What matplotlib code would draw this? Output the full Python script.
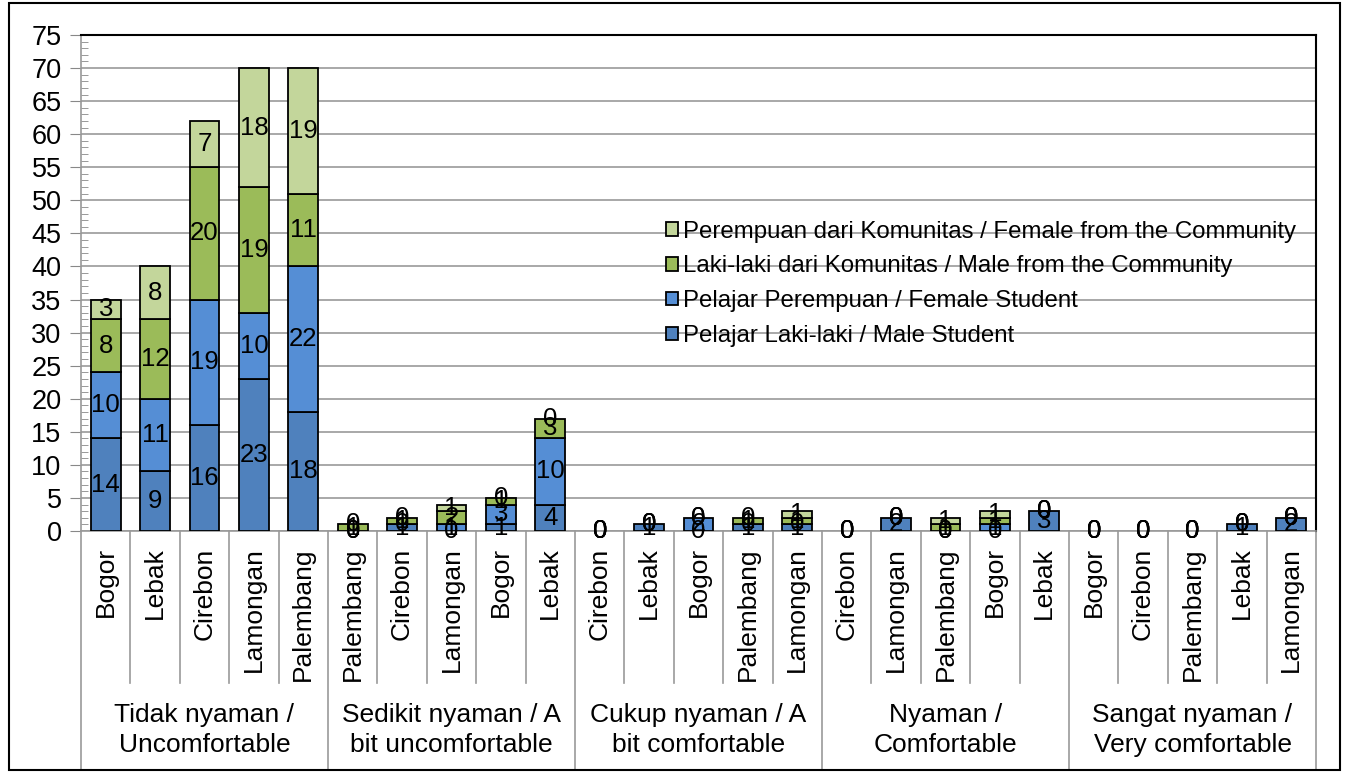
import numpy as np
import matplotlib.pyplot as plt
from matplotlib.patches import Rectangle

plt.rcParams['font.family'] = ['Liberation Sans', 'DejaVu Sans']

# comfort groups and the cities inside each group
groups = ['Tidak nyaman /\nUncomfortable', 'Sedikit nyaman / A\nbit uncomfortable',
          'Cukup nyaman / A\nbit comfortable', 'Nyaman /\nComfortable',
          'Sangat nyaman /\nVery comfortable']
cities = [
    ['Bogor', 'Lebak', 'Cirebon', 'Lamongan', 'Palembang'],
    ['Palembang', 'Cirebon', 'Lamongan', 'Bogor', 'Lebak'],
    ['Cirebon', 'Lebak', 'Bogor', 'Palembang', 'Lamongan'],
    ['Cirebon', 'Lamongan', 'Palembang', 'Bogor', 'Lebak'],
    ['Bogor', 'Cirebon', 'Palembang', 'Lebak', 'Lamongan'],
]

# series values, one per bar (5 groups x 5 cities)
male_student = [14, 9, 16, 23, 18,  0, 1, 0, 1, 4,  0, 1, 0, 1, 1,  0, 2, 0, 0, 3,  0, 0, 0, 1, 2]
female_student = [10, 11, 19, 10, 22,  0, 0, 1, 3, 10,  0, 0, 2, 0, 0,  0, 0, 0, 1, 0,  0, 0, 0, 0, 0]
male_comm = [8, 12, 20, 19, 11,  1, 1, 2, 1, 3,  0, 0, 0, 1, 1,  0, 0, 1, 1, 0,  0, 0, 0, 0, 0]
female_comm = [3, 8, 7, 18, 19,  0, 0, 1, 0, 0,  0, 0, 0, 0, 1,  0, 0, 1, 1, 0,  0, 0, 0, 0, 0]

series = [
    ('Pelajar Laki-laki / Male Student', male_student, '#4F81BD'),
    ('Pelajar Perempuan / Female Student', female_student, '#558ED5'),
    ('Laki-laki dari Komunitas / Male from the Community', male_comm, '#9BBB59'),
    ('Perempuan dari Komunitas / Female from the Community', female_comm, '#C3D69B'),
]

fig = plt.figure(figsize=(13.47, 7.73), dpi=100)
ax = fig.add_axes([81 / 1347, 1 - 531 / 773, (1316 - 81) / 1347, 496 / 773])

x = np.arange(len(male_student))
bottom = np.zeros(len(x))
handles = []
for name, vals, col in series:
    vals = np.array(vals)
    # no outline on empty segments
    lws = [1.3 if v > 0 else 0 for v in vals]
    b = ax.bar(x, vals, 0.6, bottom=bottom, color=col, edgecolor='black',
               linewidth=lws, label=name, zorder=3)
    handles.append(b)
    for xi, v, bt in zip(x, vals, bottom):
        ax.text(xi, bt + v / 2, str(v), ha='center', va='center', fontsize=18.5, zorder=4)
    bottom = bottom + vals

ax.set_xlim(-0.5, len(x) - 0.5)
ax.set_ylim(0, 75)
ax.set_yticks(np.arange(0, 76, 5))
ax.set_yticks(np.arange(0, 76, 1), minor=True)
ax.tick_params(axis='y', which='major', labelsize=19.5, length=8, color='#888888',
               direction='out', pad=6)
ax.tick_params(axis='y', which='minor', length=5, color='#888888', direction='in')
ax.yaxis.grid(True, color='#999999', linewidth=1.2, zorder=0)
ax.set_xticks([])
for s in ['left', 'bottom']:
    ax.spines[s].set_color('#999999')
    ax.spines[s].set_linewidth(1.2)
for s in ['top', 'right']:
    ax.spines[s].set_color('black')
    ax.spines[s].set_linewidth(1.5)

# two-level category axis
trans = ax.get_xaxis_transform()
flat_cities = [c for g in cities for c in g]
for xi, c in zip(x, flat_cities):
    ax.text(xi, -0.033, c, rotation=90, ha='center', va='top', fontsize=19,
            transform=trans)
for k in range(len(x) + 1):
    ln = -0.48 if k % 5 == 0 else -0.306
    ax.plot([k - 0.5, k - 0.5], [0, ln], color='#999999', lw=1.2,
            transform=trans, clip_on=False)
for gi, g in enumerate(groups):
    ax.text(gi * 5 + 2, -0.401, g, ha='center', va='center', fontsize=19,
            linespacing=1.3, transform=trans)

leg = ax.legend(handles[::-1], [s[0] for s in series][::-1], loc='upper left',
                bbox_to_anchor=(0.466, 0.645), frameon=False, fontsize=17.3,
                handlelength=0.5, handleheight=0.5, handletextpad=0.2,
                labelspacing=0.53, borderaxespad=0)
for h in leg.legend_handles:
    h.set_linewidth(1.3)

fig.patches.append(Rectangle((9 / 1347, 3 / 773), 1331 / 1347, 767 / 773,
                             transform=fig.transFigure, fill=False,
                             edgecolor='black', linewidth=1.5))

fig.savefig('out.png', dpi=100)
